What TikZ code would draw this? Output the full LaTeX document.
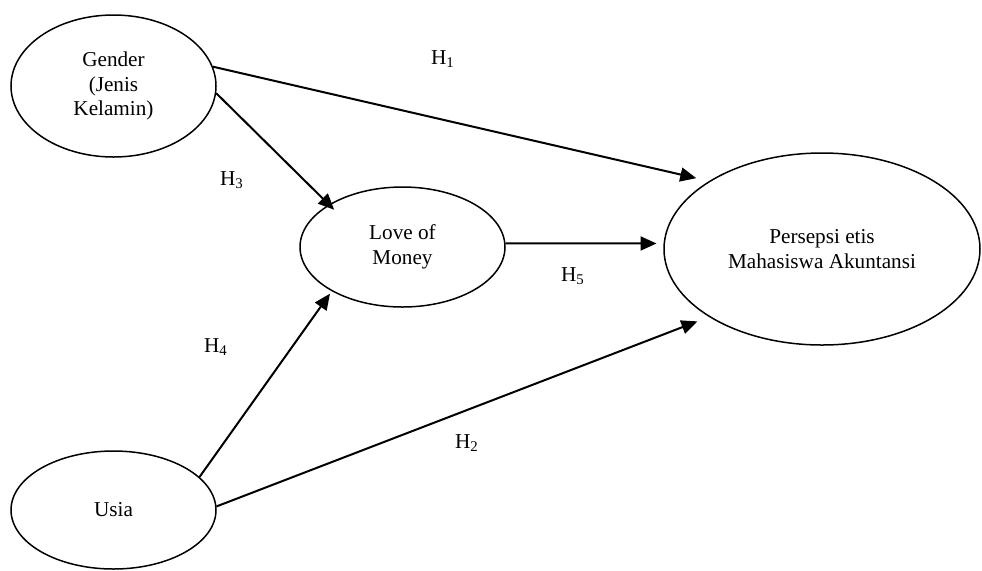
\documentclass[tikz,border=0pt]{standalone}
\usepackage{fontspec}
\setmainfont{Liberation Serif}
\usetikzlibrary{
  arrows.meta,
  positioning,
  shapes.geometric,
}
\tikzset{
  >={Triangle[length=8pt,width=7pt]},
  construct/.style={draw,ellipse,line width=0.75pt,inner sep=0pt,align=center},
  arrowline/.style={->,line width=1pt},
  hyp/.style={inner sep=0pt},
}

\begin{document}
\begin{tikzpicture}[x=0.5pt,y=-0.5pt,font=\fontsize{10.6}{12.4}\selectfont]
        \useasboundingbox (0,0) rectangle (982,570);

        \node[construct,minimum width=102.5pt,minimum height=71pt]    (gender)    at (113.5,86)     {Gender\\(Jenis\\Kelamin)};
        \node[construct,minimum width=102.5pt,minimum height=60pt]    (love)      at (402.5,247)    {Love of\\Money};
        \node[construct,minimum width=158pt,minimum height=96pt]      (persepsi)  at (822,249)      {Persepsi etis\\Mahasiswa Akuntansi};
        \node[construct,minimum width=102.5pt,minimum height=59pt]    (usia)      at (113.5,510)    {Usia};

        \node[hyp]    (h1)    at (443,59)     {H\textsubscript{1}};
        \node[hyp]    (h3)    at (232,180)    {H\textsubscript{3}};
        \node[hyp]    (h5)    at (573,276)    {H\textsubscript{5}};
        \node[hyp]    (h4)    at (216,347)    {H\textsubscript{4}};
        \node[hyp]    (h2)    at (467,443)    {H\textsubscript{2}};

        \draw[arrowline,shorten >=6.5pt] (gender.11) -- (persepsi.149);
        \draw[arrowline,shorten >=-3.75pt] (gender.-4) -- (love.150);
        \draw[arrowline,shorten >=3.5pt] (love.2) -- (persepsi.178);
        \draw[arrowline,shorten >=1.5pt] (usia.21.5) -- (love.212);
        \draw[arrowline,shorten >=6.2pt] (usia.2) -- (persepsi.211);

    \end{tikzpicture}
\end{document}
